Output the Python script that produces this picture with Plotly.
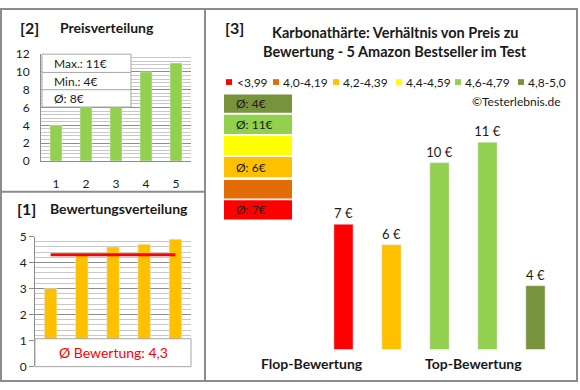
import plotly.graph_objects as go

# ---------------- data ----------------
produkte = ["1", "2", "3", "4", "5"]
bewertung = [3.0, 4.3, 4.6, 4.7, 4.9]          # sorted by rating (flop -> top)
preis = [7, 6, 10, 11, 4]                       # price of each product (same order)
klassen = ["<3,99", "4,0-4,19", "4,2-4,39", "4,4-4,59", "4,6-4,79", "4,8-5,0"]
klassen_grenzen = [0.0, 4.0, 4.2, 4.4, 4.6, 4.8, 5.01]
klassen_farben = ["#FF0000", "#E36C09", "#FFC000", "#FFFF00", "#92D050", "#77933C"]

W, H = 580, 390
FONT = "Lato"
TXT = "#1a1a1a"
BORDER = "#8C8C8C"


def X(px):
    return px / W


def Y(py):
    return 1 - py / H


def rnd(v):
    return int(v + 0.5)


def klasse(b):
    for i in range(len(klassen)):
        if klassen_grenzen[i] <= b < klassen_grenzen[i + 1]:
            return i
    return len(klassen) - 1


preis_sortiert = sorted(preis)
bar_farben = [klassen_farben[klasse(b)] for b in bewertung]

fig = go.Figure()

# [2] Preisverteilung
fig.add_trace(go.Bar(x=produkte, y=preis_sortiert, marker_color="#92D050", width=0.4,
                     xaxis="x", yaxis="y", showlegend=False))
# [1] Bewertungsverteilung
fig.add_trace(go.Bar(x=produkte, y=bewertung, marker_color="#FFC000", width=0.4,
                     xaxis="x2", yaxis="y2", showlegend=False))
avg_bew = sum(bewertung) / len(bewertung)
fig.add_trace(go.Scatter(x=[produkte[0], produkte[-1]], y=[avg_bew, avg_bew], mode="lines",
                         line=dict(color="#FF0000", width=3), xaxis="x2", yaxis="y2",
                         showlegend=False))
# [3] Preis / Bewertung
fig.add_trace(go.Bar(x=produkte, y=preis, marker_color=bar_farben, width=0.4,
                     text=[f"{p} €" for p in preis], textposition="outside", constraintext="none",
                     textfont=dict(size=13, color=TXT, family=FONT), cliponaxis=False,
                     xaxis="x3", yaxis="y3", showlegend=False))

shapes = []
ann = []

# outer frame and dividers
shapes.append(dict(type="rect", xref="paper", yref="paper", x0=X(1), x1=X(577), y0=Y(388), y1=Y(1),
                   line=dict(color=BORDER, width=2), layer="above"))
shapes.append(dict(type="line", xref="paper", yref="paper", x0=X(205), x1=X(205), y0=Y(388), y1=Y(1),
                   line=dict(color=BORDER, width=2), layer="above"))
shapes.append(dict(type="line", xref="paper", yref="paper", x0=X(1), x1=X(205), y0=Y(191), y1=Y(191),
                   line=dict(color=BORDER, width=2), layer="above"))

# ---- panel [2]
ann.append(dict(text="<b>[2]</b>", x=X(18), y=Y(20), xanchor="left", yanchor="middle",
                font=dict(size=16, color=TXT)))
ann.append(dict(text="<b>Preisverteilung</b>", x=X(58), y=Y(20), xanchor="left", yanchor="middle",
                font=dict(size=14, color=TXT)))
# info box
shapes.append(dict(type="rect", xref="paper", yref="paper", x0=X(42), x1=X(131), y0=Y(103), y1=Y(48),
                   fillcolor="white", line=dict(color="#A6A6A6", width=1), layer="above"))
for yy in (67, 85):
    shapes.append(dict(type="line", xref="paper", yref="paper", x0=X(42), x1=X(131), y0=Y(yy), y1=Y(yy),
                       line=dict(color="#A6A6A6", width=1), layer="above"))
avg_preis = sum(preis) / len(preis)
for txt, yy in ((f"Max.: {max(preis)}€", 58), (f"Min.: {min(preis)}€", 76), (f"Ø: {rnd(avg_preis)}€", 94)):
    ann.append(dict(text=txt, x=X(52), y=Y(yy), xanchor="left", yanchor="middle",
                    font=dict(size=12, color=TXT)))

# ---- panel [1]
ann.append(dict(text="<b>[1]</b>", x=X(15), y=Y(209), xanchor="left", yanchor="middle",
                font=dict(size=16, color=TXT)))
ann.append(dict(text="<b>Bewertungsverteilung</b>", x=X(48), y=Y(209), xanchor="left", yanchor="middle",
                font=dict(size=14, color=TXT)))
shapes.append(dict(type="rect", xref="paper", yref="paper", x0=X(35), x1=X(191), y0=Y(373), y1=Y(344),
                   fillcolor="white", line=dict(color="#A6A6A6", width=1), layer="above"))
ann.append(dict(text="Ø Bewertung: " + f"{avg_bew:.1f}".replace(".", ","), x=X(113), y=Y(358),
                xanchor="center", yanchor="middle", font=dict(size=14, color="#FF0000")))

# ---- panel [3]
ann.append(dict(text="<b>[3]</b>", x=X(223), y=Y(20), xanchor="left", yanchor="middle",
                font=dict(size=16, color=TXT)))
ann.append(dict(text="<b>Karbonathärte: Verhältnis von Preis zu</b>", x=X(395), y=Y(25),
                xanchor="center", yanchor="middle", font=dict(size=14.5, color=TXT)))
ann.append(dict(text="<b>Bewertung - 5 Amazon Bestseller im Test</b>", x=X(395), y=Y(45),
                xanchor="center", yanchor="middle", font=dict(size=14.5, color=TXT)))
# legend
leg_sq = [226, 273, 333, 396, 455, 518]
leg_tx = [235, 281, 341, 404, 463, 526]
for i, k in enumerate(klassen):
    shapes.append(dict(type="rect", xref="paper", yref="paper", x0=X(leg_sq[i]), x1=X(leg_sq[i] + 6),
                       y0=Y(80), y1=Y(74), fillcolor=klassen_farben[i], line=dict(width=0)))
    ann.append(dict(text=k, x=X(leg_tx[i]), y=Y(77), xanchor="left", yanchor="middle",
                    font=dict(size=12, color=TXT)))
ann.append(dict(text="©Testerlebnis.de", x=X(563), y=Y(97), xanchor="right", yanchor="middle",
                font=dict(size=12, color=TXT)))
# class boxes (top = best class)
box_rows = [(90, 109), (111, 131), (133, 153), (155, 176), (179, 198), (200, 220)]
for r, ki in enumerate(range(len(klassen) - 1, -1, -1)):
    y0, y1 = box_rows[r]
    shapes.append(dict(type="rect", xref="paper", yref="paper", x0=X(224), x1=X(292), y0=Y(y1), y1=Y(y0),
                       fillcolor=klassen_farben[ki], line=dict(width=0)))
    vals = [p for p, b in zip(preis, bewertung) if klasse(b) == ki]
    if vals:
        ann.append(dict(text=f"Ø: {rnd(sum(vals) / len(vals))}€", x=X(234), y=Y((y0 + y1) / 2),
                        xanchor="left", yanchor="middle", font=dict(size=12, color=TXT)))
ann.append(dict(text="<b>Flop-Bewertung</b>", x=X(312), y=Y(370), xanchor="center", yanchor="middle",
                font=dict(size=14, color=TXT)))
ann.append(dict(text="<b>Top-Bewertung</b>", x=X(473), y=Y(370), xanchor="center", yanchor="middle",
                font=dict(size=14, color=TXT)))

for a in ann:
    a.setdefault("xref", "paper")
    a.setdefault("yref", "paper")
    a["showarrow"] = False

fig.update_layout(
    width=W, height=H, margin=dict(l=0, r=0, t=0, b=0, pad=0),
    paper_bgcolor="white", plot_bgcolor="rgba(0,0,0,0)",
    font=dict(family=FONT, size=12, color=TXT),
    bargap=0.6, showlegend=False,
    shapes=shapes, annotations=ann,
    xaxis=dict(domain=[X(41), X(191)], range=[-0.5, 4.5], type="category", showgrid=False,
               showline=True, linecolor="#8C8C8C", linewidth=1, ticks="outside", ticklen=12,
               tickcolor="rgba(0,0,0,0)", tickfont=dict(size=12, color=TXT), fixedrange=True),
    yaxis=dict(domain=[Y(159), Y(48)], range=[0, 12], dtick=2, showgrid=True, gridcolor="#8C8C8C",
               gridwidth=1, minor=dict(dtick=0.4, showgrid=True, gridcolor="#C8C8C8"),
               showline=True, linecolor="#8C8C8C", zeroline=False, ticks="outside", ticklen=8,
               tickcolor="rgba(0,0,0,0)", tickfont=dict(size=12, color=TXT), fixedrange=True),
    xaxis2=dict(domain=[X(35), X(191)], range=[-0.5, 4.5], type="category", showgrid=False,
                showticklabels=False, showline=False, anchor="y2", fixedrange=True),
    yaxis2=dict(domain=[Y(372.7), Y(237.7)], range=[0, 5], dtick=1, showgrid=True, gridcolor="#8C8C8C",
                minor=dict(dtick=0.2, showgrid=True, gridcolor="#C8C8C8"),
                showline=True, linecolor="#8C8C8C", zeroline=False, ticks="outside", ticklen=5,
                tickcolor="#8C8C8C", tickfont=dict(size=12, color=TXT), anchor="x2", fixedrange=True),
    xaxis3=dict(domain=[X(212), X(570)], range=[-2.74, 4.72], type="category", visible=False,
                anchor="y3", fixedrange=True),
    yaxis3=dict(domain=[Y(355), Y(90)], range=[0.89, 13.33], visible=False, anchor="x3", fixedrange=True),
)

fig.write_html("out.html", config={"displayModeBar": False},
               post_script="document.body.style.margin='0';")
